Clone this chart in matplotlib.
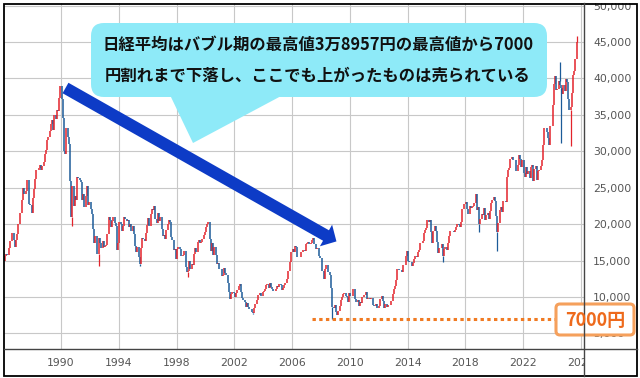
import matplotlib
matplotlib.use("Agg")
import matplotlib.pyplot as plt
from matplotlib.patches import FancyBboxPatch, Polygon, Rectangle
from matplotlib.transforms import Bbox, TransformedBbox
import numpy as np
import pandas as pd

# monthly closes of the Nikkei 225, Feb 1986 .. Sep 2025
first_open = 14900
closes = [
    15600, 15860, 15825, 16670, 17654, 17655, 18820, 17853, 16910, 17853, 18701,
    20048, 21500, 21567, 23275, 24901, 24176, 24488, 26029, 26011, 22765, 22687, 21564,
    23622, 24779, 26260, 27434, 27417, 27769, 28060, 27366, 27924, 28512, 29579, 30159,
    31581, 31985, 32839, 33713, 34266, 32949, 34954, 34431, 35637, 35549, 37269, 38916,
    37189, 34591, 29980, 29584, 33131, 31940, 31036, 25978, 20984, 25194, 22455, 23849,
    23293, 26409, 26292, 26111, 25790, 23291, 24121, 22336, 23916, 25223, 22688, 22984,
    22023, 21339, 19346, 17391, 18348, 15951, 15910, 18061, 17399, 16767, 17684, 16925,
    17024, 17098, 18591, 20919, 20552, 19590, 20380, 21027, 20106, 19704, 16408, 17417,
    20229, 19997, 19112, 19725, 20974, 20644, 20449, 20629, 19564, 19990, 19076, 19723,
    18650, 17053, 16140, 16807, 15437, 14517, 16678, 18117, 17913, 17655, 18744, 19868,
    20813, 19734, 21407, 22041, 21956, 22531, 20693, 20167, 21556, 20467, 21020, 19361,
    18330, 18557, 18003, 19151, 20069, 20604, 20331, 18229, 17888, 16459, 16636, 15259,
    16628, 16831, 16527, 15641, 15671, 15830, 16379, 14108, 13406, 13564, 14883, 13842,
    14499, 14368, 15837, 16702, 16112, 17530, 17862, 17437, 17605, 17942, 18558, 18934,
    19540, 19960, 20337, 17974, 16332, 17411, 15727, 16861, 15747, 14539, 14649, 13786,
    13844, 12884, 12999, 13934, 13262, 12969, 11861, 10714, 9775, 10366, 10697, 10543,
    9998, 10588, 11025, 11493, 11764, 10622, 9878, 9619, 9383, 8640, 9216, 8579,
    8340, 8363, 7973, 7831, 8425, 9083, 9563, 10344, 10219, 10560, 10101, 10677,
    10784, 11042, 11715, 11762, 11236, 11858, 11326, 11082, 10824, 10771, 11069, 11489,
    11388, 11741, 11669, 11009, 11277, 11584, 11900, 12414, 13574, 13607, 14872, 16111,
    16650, 16205, 17060, 16906, 15467, 15505, 15457, 16141, 16128, 16399, 16274, 17226,
    17383, 17604, 17288, 17400, 17876, 18138, 17249, 16569, 16786, 16737, 15681, 15307,
    13592, 13604, 12526, 13850, 14339, 13481, 13377, 13073, 11260, 8577, 8512, 8860,
    7994, 7568, 8110, 8828, 9523, 9958, 10357, 10493, 10133, 10035, 9346, 10546,
    10198, 10126, 11090, 11057, 9769, 9383, 9537, 8824, 9369, 9202, 9937, 10229,
    10238, 10624, 9755, 9850, 9694, 9816, 9833, 8955, 8700, 8988, 8435, 8455,
    8803, 9723, 10084, 9521, 8543, 9007, 8695, 8840, 8870, 8928, 9446, 10395,
    11139, 11559, 12398, 13861, 13775, 13677, 13668, 13389, 14456, 14328, 15662, 16291,
    14915, 14841, 14828, 14304, 14632, 15162, 15621, 15425, 16174, 16414, 17460, 17451,
    17674, 18798, 19207, 19520, 20563, 20236, 20585, 18890, 17388, 19083, 19747, 19034,
    17518, 16027, 16759, 16666, 17235, 15576, 16569, 16887, 16450, 17425, 18308, 19114,
    19041, 19119, 18909, 19197, 19651, 20033, 19925, 19646, 20356, 22012, 22725, 22765,
    23098, 22068, 21454, 22468, 22202, 22305, 22554, 22865, 24120, 21920, 22351, 20015,
    20773, 21385, 21206, 22259, 20601, 21276, 21522, 20704, 21756, 22927, 23294, 23657,
    23205, 21143, 18917, 20194, 21878, 22288, 21710, 23140, 23185, 22977, 26434, 27444,
    27663, 28966, 29179, 28813, 28860, 28792, 27284, 28090, 29453, 28893, 27822, 28792,
    27002, 26527, 27821, 26848, 27280, 26393, 27802, 28092, 25937, 27587, 27969, 26095,
    27327, 27446, 28041, 28856, 30888, 33189, 33172, 32619, 31858, 30859, 33487, 33464,
    36287, 39166, 40369, 38406, 38488, 39583, 39102, 38648, 37920, 39081, 38208, 39895,
    39572, 37156, 35618, 36045, 37965, 40487, 41070, 42718, 44933,
]

# intra-month extremes shown as wicks
wick_months = ["1989-12", "1990-10", "1992-08", "1995-06", "1998-10", "2003-04",
               "2008-10", "2016-06", "2018-12", "2020-03", "2024-07", "2024-08",
               "2025-04", "2025-09"]
wick_values = [38957, 19781, 14194, 14295, 12787, 7603,
               6994, 14864, 18948, 16358, 42224, 31156,
               30792, 45852]

year_ticks = [1990, 1994, 1998, 2002, 2006, 2010, 2014, 2018, 2022, 2026]
price_ticks = [5000, 10000, 15000, 20000, 25000, 30000, 35000, 40000, 45000, 50000]

title_lines = ["日経平均はバブル期の最高値3万8957円の最高値から7000",
               "円割れまで下落し、ここでも上がったものは売られている"]
floor_value = 7000
floor_label = "7000円"

RED = "#e3232b"
BLUE = "#1c5b98"
CYAN = "#8eeaf8"
ARROW = "#0d3bc6"
ORANGE = "#f07a22"
JP = ["Noto Sans CJK JP", "DejaVu Sans"]

months = pd.period_range("1986-02", periods=len(closes), freq="M")
x = np.asarray(months.year + (months.month - 0.5) / 12.0, dtype=float)
c = np.asarray(closes, dtype=float)
o = np.concatenate([[first_open], c[:-1]])
up = c >= o
colors = np.where(up, RED, BLUE)

fig = plt.figure(figsize=(6.4, 3.78), dpi=100)
ax = fig.add_axes([4 / 640, (378 - 349) / 378, 580 / 640, 346 / 378])
ax.set_xlim(1986.05, 2026.22)
ax.set_ylim(2865, 50350)

ax.vlines(x, np.minimum(o, c), np.maximum(o, c), colors=colors, lw=1.1, zorder=3)

month_index = {str(p): i for i, p in enumerate(months)}
for m, v in zip(wick_months, wick_values):
    i = month_index[m]
    end = min(o[i], c[i]) if v < min(o[i], c[i]) else max(o[i], c[i])
    ax.vlines(x[i], min(v, end), max(v, end), colors=colors[i], lw=0.9, zorder=3)

ax.hlines(floor_value, 2007.38, 2024.8, colors=ORANGE, lw=2.2,
          linestyles=(0, (1.1, 1.1)), zorder=4)

ax.set_xticks(year_ticks)
ax.set_xticklabels([str(y) for y in year_ticks])
ax.set_yticks(price_ticks)
ax.set_yticklabels([f"{p:,}" for p in price_ticks])
ax.yaxis.tick_right()
ax.grid(color="#c8c8c8", lw=0.8, zorder=0)
ax.tick_params(length=0, pad=6.5, labelsize=7.8, labelcolor="#555555")
for side in ["top", "left", "right", "bottom"]:
    ax.spines[side].set_visible(False)

# overlay in pixel coordinates for the callouts and frame
ov = fig.add_axes([0, 0, 1, 1])
ov.set_xlim(0, 640)
ov.set_ylim(378, 0)
ov.axis("off")

ov.plot([4, 637], [349, 349], color="#444444", lw=1.0)
ov.plot([584, 584], [3, 376], color="#444444", lw=1.0)

ov.add_patch(FancyBboxPatch((91, 23), 456, 74, boxstyle="round,pad=0,rounding_size=13",
                            fc=CYAN, ec="none"))
ov.add_patch(Polygon([(170, 95), (193, 143), (283, 95)], closed=True, fc=CYAN, ec="none"))
ov.text(318, 45, title_lines[0], ha="center", va="center", fontsize=11.8,
        fontweight="bold", family=JP, color="#111111")
ov.text(318, 76, title_lines[1], ha="center", va="center", fontsize=11.8,
        fontweight="bold", family=JP, color="#111111")

start = np.array([65.5, 88.0])
base = np.array([326.0, 235.5])
u = (base - start) / np.hypot(*(base - start))
p = np.array([u[1], -u[0]])
arrow_pts = [start + 6 * p, base + 6 * p, base + 12.4 * p, base + 12 * u,
             base - 12.4 * p, base - 6 * p, start - 6 * p]
ov.add_patch(Polygon(arrow_pts, closed=True, fc=ARROW, ec="none"))

ov.add_patch(FancyBboxPatch((556, 304), 78, 31, boxstyle="round,pad=0,rounding_size=4",
                            fc="white", ec="#f5a05c", lw=2.2))
ov.text(595, 320, floor_label, ha="center", va="center", fontsize=13,
        fontweight="bold", family=JP, color="#ee6a1c")

ov.add_patch(Rectangle((3.5, 3.5), 633, 372.5, fill=False, ec="black", lw=1.3))

fig.canvas.draw()
xclip = TransformedBbox(Bbox.from_extents(4 / 640, 2 / 378, 584 / 640, 375 / 378), fig.transFigure)
yclip = TransformedBbox(Bbox.from_extents(584 / 640, 2 / 378, 636 / 640, 375 / 378), fig.transFigure)
for t in ax.xaxis.get_major_ticks():
    t.label1.set_clip_box(xclip)
    t.label1.set_clip_on(True)
for t in ax.yaxis.get_major_ticks():
    t.label2.set_clip_box(yclip)
    t.label2.set_clip_on(True)

fig.savefig("out.png", dpi=100)
